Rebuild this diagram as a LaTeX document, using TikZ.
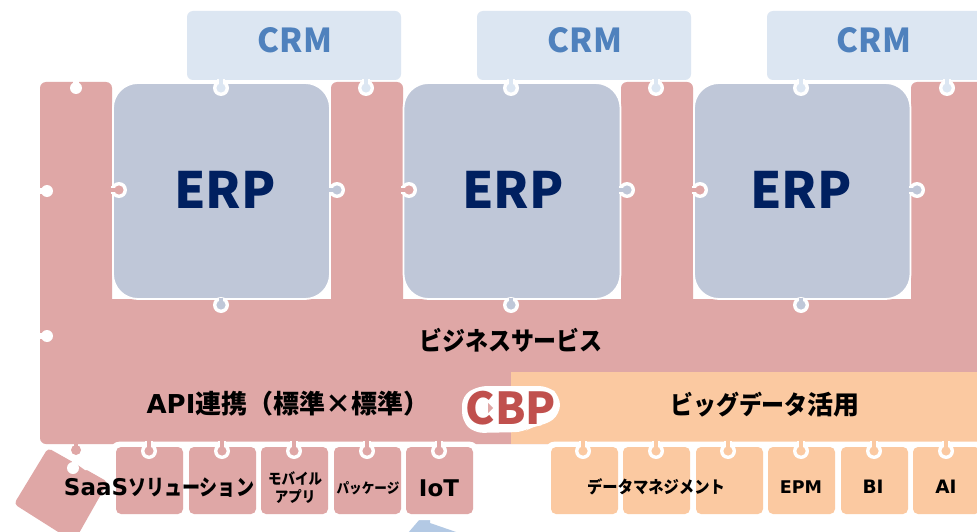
\documentclass[tikz,border=0pt]{standalone}
\usepackage{fontspec}
\newfontfamily\jpf{Noto Sans CJK JP}
\newfontfamily\knf[FakeStretch=0.9]{Noto Sans CJK JP}
\newfontfamily\kns[FakeStretch=0.82]{Noto Sans CJK JP}
\newfontfamily\ltf{DejaVu Sans}
\definecolor{pk}{HTML}{DFA7A6}
\definecolor{og}{HTML}{FBC9A1}
\definecolor{erpc}{HTML}{BFC7D8}
\definecolor{crmc}{HTML}{DCE6F2}
\definecolor{crmt}{HTML}{4F81BD}
\definecolor{erpt}{HTML}{002060}
\definecolor{cbpt}{HTML}{C0504D}
\definecolor{arrowc}{HTML}{B3C9E4}
\newcommand{\fsz}[1]{\fontsize{#1}{#1}\selectfont}
% ring tab: base (#1), centre (#2), inner colour #3
\newcommand{\ringtab}[3]{%
  \draw[white,line width=8pt] (#1) -- (#2);
  \fill[white] (#2) circle[radius=8pt];
  \draw[#3,line width=4pt] (#1) -- (#2);
  \fill[#3] (#2) circle[radius=4.6pt];}
% plain white hole: base (#1), centre (#2)
\newcommand{\holetab}[2]{%
  \draw[white,line width=5.5pt] (#1) -- (#2);
  \fill[white] (#2) circle[radius=6pt];}
\tikzset{
  lbl/.style={text=black,inner sep=0pt,align=center},
}
\begin{document}
\begin{tikzpicture}[x=1pt,y=-1pt]
\useasboundingbox (0,0) rectangle (977,532);
\clip (0,0) rectangle (977,532);
\fill[white] (0,0) rectangle (977,532);
% blue arrow fragment
\fill[arrowc] (408,533) -- (420,519) -- (430,519) -- (430,523) -- (459,533) -- cycle;
% rotated SaaS piece
\fill[pk,rounded corners=4pt] (48,448) -- (108,482) -- (74,542) -- (14,504) -- cycle;
\holetab{76,458}{73,468}
\fill[white] (74,462) -- (80,444) -- (106,444) -- (106,470) -- (85,470) -- cycle;
% CRM boxes
\foreach \a/\b in {187/401,477/691,767/990}
  \fill[crmc,rounded corners=6pt] (\a,11) rectangle (\b,80);
% main pink body
\fill[pk,rounded corners=6pt] (40,444) -- (40,82) -- (112,82) [sharp corners] -- (112,299) -- (331,299)
  [rounded corners=6pt] -- (331,82) -- (403,82) [sharp corners] -- (403,299) -- (621,299)
  [rounded corners=6pt] -- (621,82) -- (693,82) [sharp corners] -- (693,299) -- (911,299)
  [rounded corners=6pt] -- (911,82) -- (990,82) -- (990,444) -- cycle;
\fill[og] (511,372) rectangle (990,444);
% ERP blocks
\foreach \a/\b in {113/330,403.5/620.5,694/910.5}
  \filldraw[fill=erpc,draw=white,line width=1.8pt,rounded corners=25pt] (\a,83) rectangle (\b,299);
% holes in the left edge and column top
\holetab{38,191}{47,191}
\holetab{38,336}{47,336}
\holetab{76,80}{76,88}
% CRM tabs
\foreach \x in {221,511,801,366,656,947} {\ringtab{\x,79}{\x,88}{crmc}}
% ERP side and bottom tabs
\foreach \x in {119,409,700} {\ringtab{\x-8,190}{\x,190}{pk}}
\foreach \x in {337,627,917} {\ringtab{\x-8,190}{\x,190}{erpc}}
\foreach \x in {221,511,801} {\ringtab{\x,298}{\x,305}{erpc}}
% tab of the bar towards the SaaS piece
\draw[pk,line width=4pt] (76,442) -- (76,450);
\fill[pk] (76,450) circle[radius=5pt];
% small pieces: white outline first
\fill[white,rounded corners=8pt] (111,441.7) rectangle (478,520);
\fill[white,rounded corners=8pt] (546,441.7) rectangle (990,520);
\foreach \a in {116,189,261,334,406}
  \fill[pk,rounded corners=5pt] (\a,447) rectangle (\a+67,514);
\foreach \a in {551,623,696,768,841,913}
  \fill[og,rounded corners=5pt] (\a,447) rectangle (\a+67,514);
\foreach \x in {149,222,294,367,439} {\ringtab{\x,441}{\x,451}{pk}}
\foreach \x in {583,656,728,801,874,946} {\ringtab{\x,441}{\x,451}{og}}
% CBP halo
\fill[white,rounded corners=9pt] (478,386) -- (548,386) -- (560,396) -- (560,414) -- (546,425) -- (533,426) -- (524,432) -- (474,433) -- (462,421) -- (462,396) -- cycle;
\fill[pk] (488,403) -- (493,408) -- (488,413) -- cycle;
% Labels
\foreach \n/\x in {a/295,b/585,c/874}
  \node[lbl,text=crmt,font=\jpf\bfseries\fsz{33}] (crm\n) at (\x,40) {CRM};
\foreach \n/\x in {a/225,b/513,c/801}
  \node[lbl,text=erpt,font=\jpf\bfseries\fsz{50}] (erp\n) at (\x,190) {ERP};
\node[lbl,font=\knf\bfseries\fsz{25.5}] (biz) at (511,340) {ビジネスサービス};
\node[lbl,font=\jpf\bfseries\fsz{26}] (api) at (288,404) {{\ltf\fsz{26}API}連携（標準×標準）};
\node[lbl,font=\jpf\bfseries\fsz{26}] (big) at (765,405) {{\knf\fsz{25.5}ビッグデータ}活用};
\node[lbl,text=cbpt,font=\jpf\bfseries\fsz{44}] (cbp) at (511,408) {CBP};
\node[lbl,font=\kns\bfseries\fsz{22}] (saas) at (159,488) {{\ltf\fsz{23}SaaS}ソリューション};
\node[lbl,font=\knf\bfseries\fsz{15}] (mob) at (295,488) {モバイル\\[3pt]アプリ};
\node[lbl,font=\knf\bfseries\fsz{14}] (pkg) at (368,488) {パッケージ};
\node[lbl,font=\ltf\bfseries\fsz{23}] (iot) at (439,488) {IoT};
\node[lbl,font=\knf\bfseries\fsz{17}] (dm) at (656,487) {データマネジメント};
\node[lbl,font=\ltf\bfseries\fsz{17.5}] (epm) at (801,487) {EPM};
\node[lbl,font=\ltf\bfseries\fsz{18.5}] (bi) at (873,487) {BI};
\node[lbl,font=\ltf\bfseries\fsz{18.5}] (ai) at (946,487) {AI};
\end{tikzpicture}
\end{document}
